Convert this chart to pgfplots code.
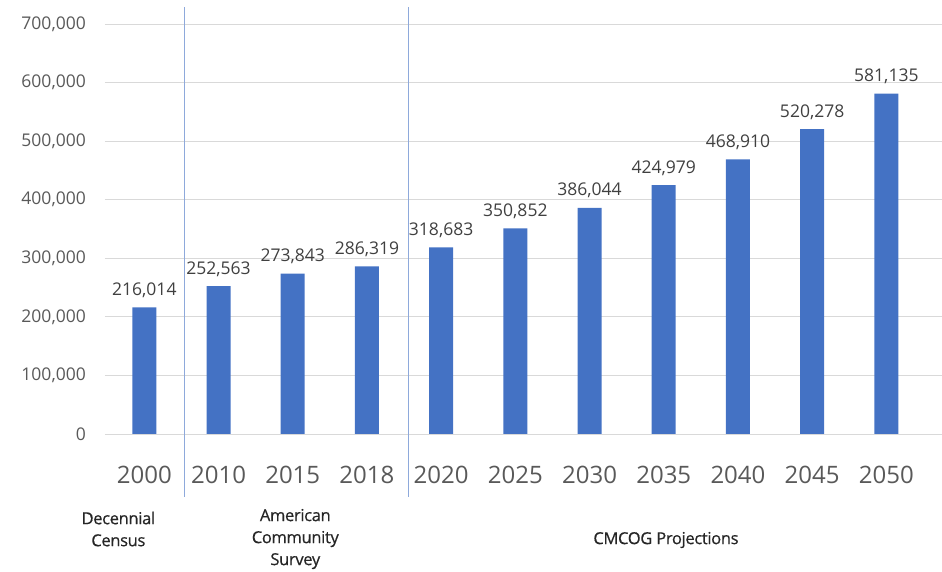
\documentclass[border=0pt]{standalone}
\usepackage{pgfplots}
\pgfplotsset{compat=1.18}
\usepackage{fontspec}
\setmainfont{Open Sans}
\newfontfamily\grpfont{Open Sans}[FakeBold=0.6, LetterSpace=-2]
\definecolor{barblue}{HTML}{4472C4}
\definecolor{gridgray}{HTML}{D9D9D9}
\definecolor{ticklbl}{HTML}{595959}
\definecolor{datalbl}{HTML}{404040}
\definecolor{grouplbl}{HTML}{262626}
\definecolor{sepblue}{HTML}{8EA9DB}
\begin{document}
\begin{tikzpicture}
\begin{axis}[
  scale only axis,
  width=837pt, height=427pt,
  xmin=-0.53, xmax=10.75,
  ymin=0, ymax=729000,
  clip=false,
  axis line style={draw=none},
  tick style={draw=none},
  ytick={0,100000,200000,300000,400000,500000,600000,700000},
  ymajorgrids,
  grid style={color=gridgray, line width=0.9pt},
  scaled y ticks=false,
  yticklabel style={font=\fontsize{17.5}{20}\selectfont, color=ticklbl, inner sep=0pt, anchor=east, xshift=-19pt,
    /pgf/number format/.cd, fixed, 1000 sep={,}, assume math mode=true},
  xtick={0,1,2,3,4,5,6,7,8,9,10},
  xticklabels={2000,2010,2015,2018,2020,2025,2030,2035,2040,2045,2050},
  xticklabel style={font=\fontsize{24}{28}\selectfont, color=ticklbl, anchor=base, inner sep=0pt, yshift=-45pt},
  ybar,
  bar width=24pt,
  nodes near coords,
  nodes near coords style={font=\fontsize{17.5}{20}\selectfont, color=datalbl, anchor=base, inner sep=0pt, yshift=12pt,
    /pgf/number format/.cd, fixed, 1000 sep={,}, assume math mode=true},
]
\addplot[fill=barblue, draw=none] coordinates {
  (0,216014) (1,252563) (2,273843) (3,286319) (4,318683) (5,350852)
  (6,386044) (7,424979) (8,468910) (9,520278) (10,581135)
};
\draw[sepblue, line width=1pt] (axis cs:0.54,-107500) -- (axis cs:0.54,729000);
\draw[sepblue, line width=1pt] (axis cs:3.56,-107500) -- (axis cs:3.56,729000);
\node[align=center, color=grouplbl, font=\grpfont\fontsize{16.5}{22}\selectfont] at (axis cs:-0.35,-162200) {Decennial\\Census};
\node[align=center, color=grouplbl, font=\grpfont\fontsize{16.5}{22}\selectfont] at (axis cs:2.035,-179300) {American\\Community\\Survey};
\node[align=center, color=grouplbl, font=\grpfont\fontsize{16.5}{22}\selectfont] at (axis cs:7.03,-181000) {CMCOG Projections};
\end{axis}
\pgfresetboundingbox
\path (current axis.south west) ++(-105pt,-138pt) rectangle ++(942pt,572pt);
\end{tikzpicture}
\end{document}
